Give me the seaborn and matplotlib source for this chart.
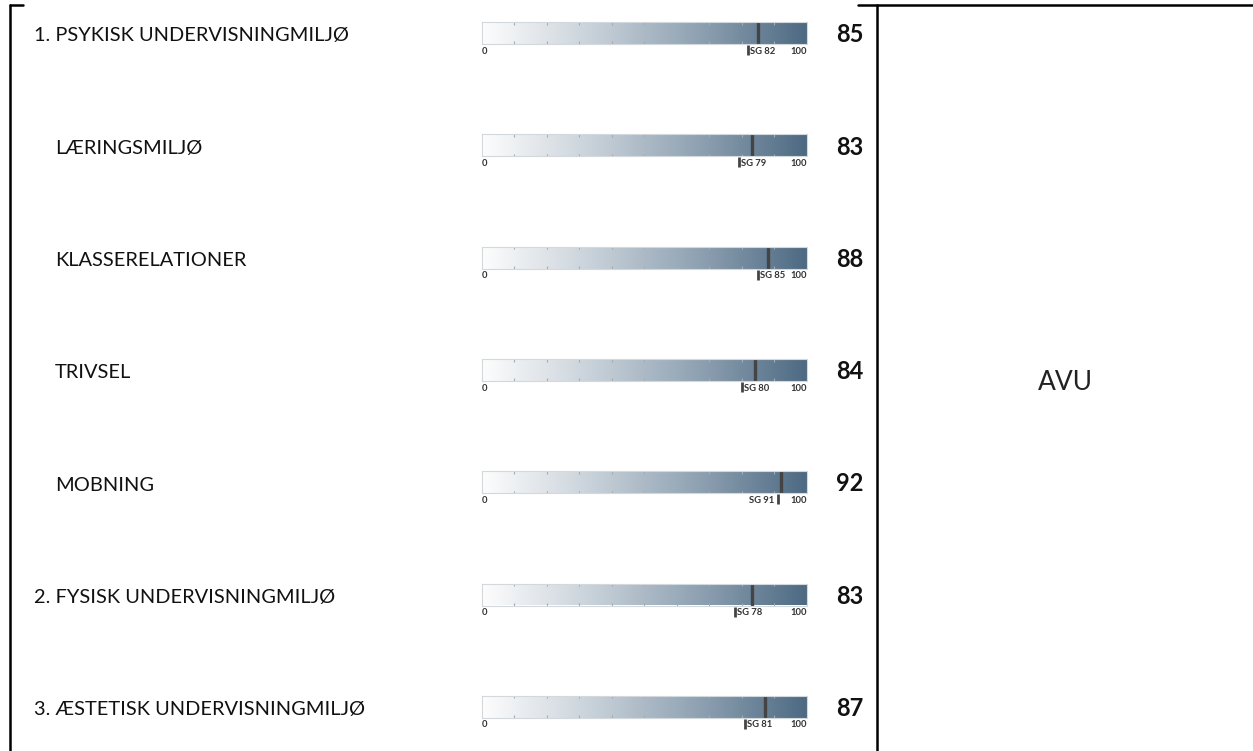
import matplotlib
matplotlib.use("Agg")
import matplotlib.pyplot as plt
import numpy as np
import seaborn as sns

# Data
labels = ["1. PSYKISK UNDERVISNINGMILJØ", "LÆRINGSMILJØ", "KLASSERELATIONER",
          "TRIVSEL", "MOBNING", "2. FYSISK UNDERVISNINGMILJØ",
          "3. ÆSTETISK UNDERVISNINGMILJØ"]
indent = [False, True, True, True, True, False, False]
scores = [85, 83, 88, 84, 92, 83, 87]
sg_scores = [82, 79, 85, 80, 91, 78, 81]
school = "AVU"

sns.set_style("white")
plt.rcParams['font.family'] = ['Lato', 'DejaVu Sans']

W, H = 1253, 751
fig = plt.figure(figsize=(W / 100, H / 100), dpi=100)
bg = fig.add_axes([0, 0, 1, 1])
bg.set_xlim(0, W)
bg.set_ylim(H, 0)
bg.axis('off')

# table borders
bg.plot([10, 10], [5, H], color='black', lw=1.8)
bg.plot([10, 23], [5, 5], color='black', lw=1.8)
bg.plot([858, W], [5, 5], color='black', lw=1.8)
bg.plot([877, 877], [5, H], color='black', lw=1.8)
bg.text(1065, 383, school, ha='center', va='center', fontsize=19,
        fontweight='normal', color='#222222')

cmap = sns.blend_palette(["#fdfdfd", "#c9d2da", "#8fa2b2", "#4d6a83"], as_cmap=True)
grad = np.linspace(0, 1, 256).reshape(1, -1)

bar_left, bar_w, bar_h = 482, 325, 22
row_gap = 112.3
first_top = 22

for i, (lab, ind, val, sg) in enumerate(zip(labels, indent, scores, sg_scores)):
    top = first_top + i * row_gap
    cy = top + bar_h / 2
    bg.text(55 if ind else 34, cy + 3, lab, ha='left', va='center',
            fontsize=14.4, color='#111111')

    ax = fig.add_axes([bar_left / W, 1 - (top + bar_h) / H, bar_w / W, bar_h / H])
    ax.imshow(grad, cmap=cmap, extent=[0, 100, 0, 1], aspect='auto')
    ax.set_xlim(0, 100)
    ax.set_ylim(0, 1)
    ax.set_xticks([])
    ax.set_yticks([])
    for s in ax.spines.values():
        s.set_color('#d3d8dc')
        s.set_linewidth(0.8)
    ticks = np.arange(10, 100, 10)
    ax.vlines(ticks, 0, 0.12, color='#a3acb4', lw=0.8)
    ax.vlines(ticks, 0.88, 1, color='#a3acb4', lw=0.8)
    ax.axvline(val, color='#444444', lw=2.4)
    # benchmark marker below the bar
    ax.plot([sg, sg], [-0.05, -0.5], color='#444444', lw=2.0, clip_on=False,
            solid_capstyle='butt')
    small = dict(va='top', fontsize=6.8, fontweight='bold', color='#333333')
    ax.text(0, -0.12, "0", ha='left', **small)
    ax.text(100, -0.12, "100", ha='right', **small)
    if sg > 88:
        ax.text(sg - 1.2, -0.12, f"SG {sg}", ha='right', **small)
    else:
        ax.text(sg + 0.6, -0.12, f"SG {sg}", ha='left', **small)
    ax.text(113.2, 0.42, str(val), ha='center', va='center', fontsize=17,
            fontweight='bold', color='#111111', clip_on=False)

fig.savefig("out.png", dpi=100)
